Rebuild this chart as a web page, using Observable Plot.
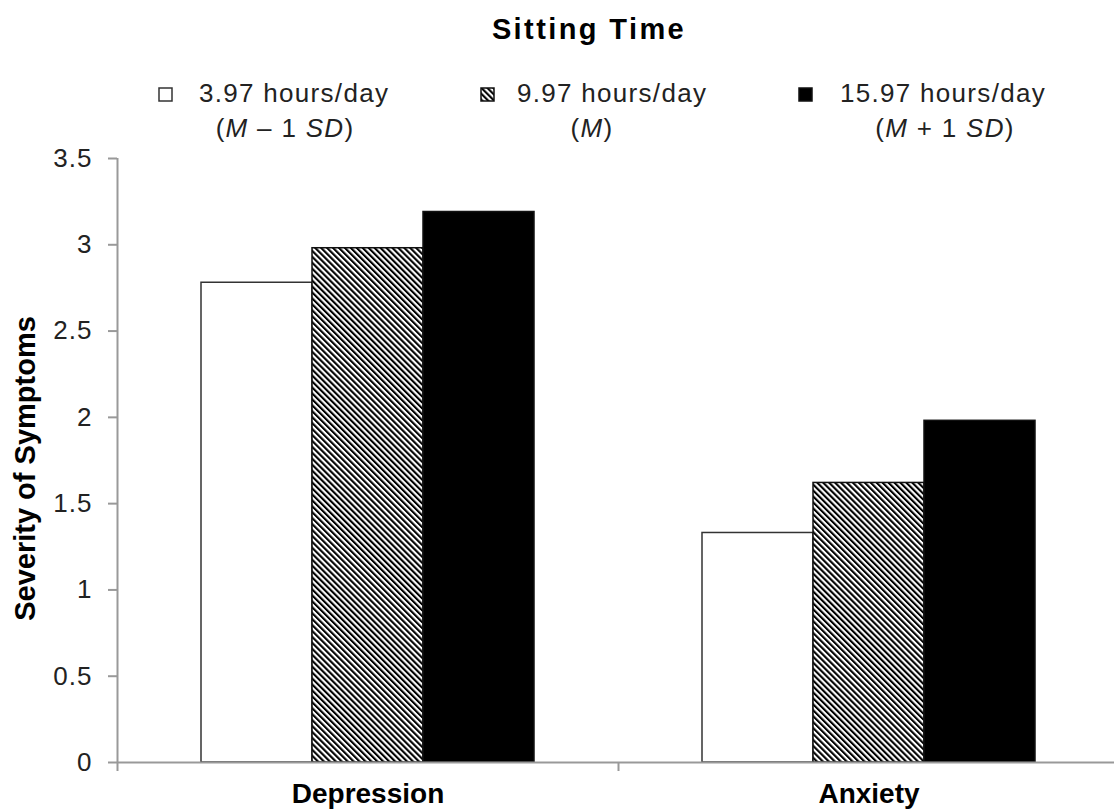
<!DOCTYPE html>
<html>
<head>
<meta charset="utf-8">
<script src="https://cdn.jsdelivr.net/npm/d3@7"></script>
<script src="https://cdn.jsdelivr.net/npm/@observablehq/plot@0.6"></script>
<style>
  html, body { margin: 0; padding: 0; background: #fff; overflow: hidden; }
  #chart svg { display: block; }
  g[aria-label="y-axis tick label"] text { letter-spacing: 1px; }
</style>
</head>
<body>
<div id="chart"></div>
<script>
// ---- data ----
const title = "Sitting Time";
const categories = ["Depression", "Anxiety"];
const seriesLabels = ["3.97 hours/day", "9.97 hours/day", "15.97 hours/day"];
// second legend line: [text, italic] segments
const seriesNotes = [
  [["(", false], ["M", true], [" – 1 ", false], ["SD", true], [")", false]],
  [["(", false], ["M", true], [")", false]],
  [["(", false], ["M", true], [" + 1 ", false], ["SD", true], [")", false]]
];
const lowSitting  = [2.78, 1.33];
const meanSitting = [2.98, 1.62];
const highSitting = [3.19, 1.98];
const yTicks = [0, 0.5, 1, 1.5, 2, 2.5, 3, 3.5];
const yLabel = "Severity of Symptoms";

// ---- styles / layout ----
const font = "'Liberation Sans', Arial, Helvetica, sans-serif";
const seriesFill = ["white", "url(#hatch)", "black"];
const seriesStroke = ["#333", "#111", "#111"];
const W = 1114, headerH = 148, plotH = 664;
const mL = 117, mR = -5, mT = 10, mB = 50;
const bandW = (W - mR - mL) / categories.length;
const barW = 111;
const groupOff = (bandW - 3 * barW) / 2;

// ---- header (title + legend) ----
const header = d3.create("svg")
  .attr("width", W).attr("height", headerH)
  .attr("font-family", font)
  .style("display", "block");
const pat = header.append("defs").append("pattern")
  .attr("id", "hatch").attr("patternUnits", "userSpaceOnUse")
  .attr("width", 4.2).attr("height", 4.2)
  .attr("patternTransform", "rotate(-45)");
pat.append("rect").attr("width", 4.2).attr("height", 4.2).attr("fill", "white");
pat.append("rect").attr("width", 2.1).attr("height", 4.2).attr("fill", "black");
document.getElementById("chart").append(header.node());

header.append("text")
  .attr("x", 589).attr("y", 39)
  .attr("text-anchor", "middle")
  .attr("font-weight", "bold").attr("font-size", 29)
  .attr("letter-spacing", 2.4)
  .attr("fill", "#000")
  .text(title);

const swatchX = [159, 481, 799];
const textX = [199, 517, 840];
const noteX = [285, 592, 945];
seriesLabels.forEach((lab, j) => {
  const g = header.append("g");
  g.append("rect")
    .attr("x", swatchX[j]).attr("y", 88).attr("width", 13).attr("height", 13)
    .attr("fill", seriesFill[j]).attr("stroke", seriesStroke[j]).attr("stroke-width", 1.5);
  g.append("text")
    .attr("x", textX[j]).attr("y", 102)
    .attr("font-size", 26).attr("letter-spacing", 1.3).attr("fill", "#222")
    .text(lab);
  // second line: separate text pieces laid out one after another, centered as a whole
  const pieces = seriesNotes[j].map(([s, it]) =>
    g.append("text")
      .attr("y", 137)
      .attr("font-size", 26).attr("letter-spacing", 1.3).attr("fill", "#222")
      .attr("font-style", it ? "italic" : "normal")
      .style("white-space", "pre")
      .attr("xml:space", "preserve")
      .text(s)
  );
  const widths = pieces.map(p => p.node().getComputedTextLength());
  const total = d3.sum(widths);
  let x = noteX[j] - total / 2;
  pieces.forEach((p, k) => { p.attr("x", x); x += widths[k]; });
});

// ---- plot ----
const seriesValues = [lowSitting, meanSitting, highSitting];
const barMarks = seriesValues.map((vals, j) =>
  Plot.barY(categories.map((c, i) => ({category: c, value: vals[i]})), {
    x: "category",
    y: "value",
    fill: seriesFill[j],
    stroke: seriesStroke[j],
    strokeWidth: 1.5,
    insetLeft: groupOff + j * barW,
    insetRight: bandW - groupOff - (j + 1) * barW
  })
);

const chart = Plot.plot({
  width: W,
  height: plotH,
  marginLeft: mL,
  marginRight: mR,
  marginTop: mT,
  marginBottom: mB,
  style: {fontFamily: font, background: "white", color: "#222", overflow: "visible"},
  x: {domain: categories, padding: 0, axis: null},
  y: {domain: [0, 3.5], axis: null},
  marks: [
    ...barMarks,
    Plot.ruleY([0], {stroke: "#999", strokeWidth: 2}),
    Plot.ruleX([categories[0]], {dx: -bandW / 2, stroke: "#999", strokeWidth: 2, insetBottom: -9}),
    Plot.ruleX([categories[1]], {dx: -bandW / 2, y1: 0, y2: 0, stroke: "#999", strokeWidth: 2, insetBottom: -9}),
    Plot.axisY({ticks: yTicks, tickSize: 9, tickPadding: 16, stroke: "#999", strokeWidth: 2,
      fill: "#222", fontSize: 26, label: null, tickFormat: d => String(d)}),
    Plot.axisX({tickSize: 0, tickPadding: 21, fontSize: 28, fontWeight: "bold", fill: "#000", label: null}),
    Plot.text([yLabel], {frameAnchor: "left", textAnchor: "middle", lineAnchor: "middle",
      rotate: -90, dx: -92, dy: 8, fontSize: 29, fontWeight: "bold", fill: "#000"})
  ]
});
document.getElementById("chart").append(chart);
</script>
</body>
</html>
